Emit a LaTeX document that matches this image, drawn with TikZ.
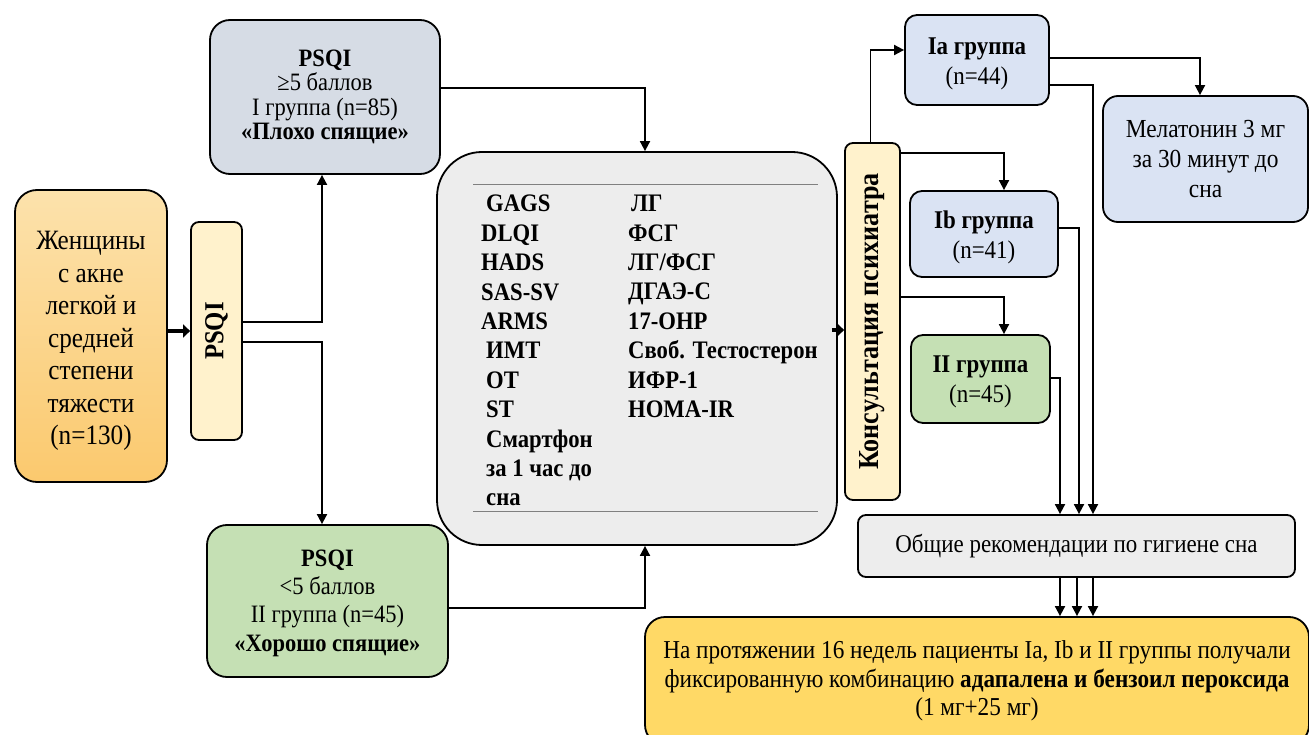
\documentclass[tikz,border=0pt]{standalone}
\usepackage{fontspec}
\setmainfont[FakeStretch=0.9]{Liberation Serif}
\usetikzlibrary{arrows.meta}
\definecolor{cWomenTop}{RGB}{252,226,172}
\definecolor{cWomenBot}{RGB}{251,201,110}
\definecolor{cCream}{HTML}{FFF2CC}
\definecolor{cGrayBlue}{HTML}{D6DCE5}
\definecolor{cBlue}{HTML}{DAE3F3}
\definecolor{cGreen}{HTML}{C5E0B4}
\definecolor{cGray}{HTML}{EDEDED}
\definecolor{cGold}{HTML}{FFD966}
\newcommand{\fsz}[2]{\fontsize{#1}{#2}\selectfont}
\begin{document}
\begin{tikzpicture}[x=1pt,y=-1pt,
  box/.style={draw=black, line width=1.8pt, inner sep=0pt, align=center},
  txt/.style={inner sep=0pt, align=center},
  arr/.style={line width=1.8pt, -{Triangle[length=10pt,width=10pt]}},
  fatarr/.style={line width=4.5pt, -{Triangle[length=7pt,width=13pt]}},
  sep/.style={draw=gray, line width=1pt},
  lbl/.style={inner sep=0pt, align=left, anchor=north west},
]
\useasboundingbox (0,0) rectangle (1309,735);

% boxes
\node[box, top color=cWomenTop, bottom color=cWomenBot, rounded corners=22pt,
      minimum width=152pt, minimum height=292pt] (women) at (91,336) {};
\node[txt, font=\fsz{28}{32.5}] (womentext) at ([yshift=-5pt]women.center)
  {Женщины\\с акне\\легкой и\\средней\\степени\\тяжести\\(n=130)};
\node[box, fill=cCream, rounded corners=8pt, minimum width=51pt, minimum height=218pt]
  (psqiv) at (216.5,331) {};
\node[rotate=90, inner sep=0pt, font=\fsz{27.5}{30}\bfseries] (psqivtext) at (psqiv) {PSQI};

\node[box, fill=cGrayBlue, rounded corners=20pt, minimum width=230pt, minimum height=154pt,
      font=\fsz{25}{24.3}]
  (top) at (325,97) {\textbf{PSQI}\\≥5 баллов\\I группа (n=85)\\\textbf{«Плохо спящие»}};
\node[box, fill=cGreen, rounded corners=20pt, minimum width=241pt, minimum height=152pt] (bot) at (327.5,601) {};
\node[txt, font=\fsz{25}{28.4}] (bottext) at ([yshift=-2pt]bot.center)
  {\textbf{PSQI}\\<5 баллов\\II группа (n=45)\\\textbf{«Хорошо спящие»}};

\node[box, fill=cGray, rounded corners=45pt, minimum width=400pt, minimum height=393pt]
  (big) at (637,348.5) {};
\draw[sep] (473,185) -- (818,185);
\draw[sep] (473,511) -- (818,511);
\node[lbl, font=\fsz{25.2}{29.4}\bfseries] (colA) at (486,195)
  {GAGS\\\hspace*{-5pt}DLQI\\\hspace*{-5pt}HADS\\\hspace*{-5pt}SAS-SV\\\hspace*{-5pt}ARMS\\ИМТ\\ОТ\\ST\\Смартфон\\за 1 час до\\сна};
\node[lbl, font=\fsz{25.2}{29.4}\bfseries] (colB) at (628,195)
  {\hspace*{3pt}ЛГ\\ФСГ\\ЛГ/ФСГ\\ДГАЭ-С\\17-OHP\\Своб. Тестостерон\\ИФР-1\\HOMA-IR};

\node[box, fill=cCream, rounded corners=8pt, minimum width=55pt, minimum height=357pt]
  (kons) at (872.5,321.5) {};
\node[rotate=90, inner sep=0pt, font=\fsz{29}{30}\bfseries] (konstext) at (kons) {Консультация психиатра};

\node[box, fill=cBlue, rounded corners=12pt, minimum width=144pt, minimum height=90pt] (ia) at (977,60) {};
\node[txt, font=\fsz{25.5}{30}] (iatext) at ([yshift=-3.5pt]ia.center) {\textbf{Ia группа}\\(n=44)};
\node[box, fill=cBlue, rounded corners=15pt, minimum width=205pt, minimum height=126pt,
      font=\fsz{26}{30}]
  (mel) at (1205.5,159) {Мелатонин 3 мг\\за 30 минут до\\сна};
\node[box, fill=cBlue, rounded corners=12pt, minimum width=148pt, minimum height=86pt] (ib) at (984,234) {};
\node[txt, font=\fsz{25.5}{30}] (ibtext) at ([yshift=-3.5pt]ib.center) {\textbf{Ib группа}\\(n=41)};
\node[box, fill=cGreen, rounded corners=12pt, minimum width=139pt, minimum height=88pt] (ii) at (980.5,379) {};
\node[txt, font=\fsz{25.5}{30}] (iitext) at ([yshift=-3pt]ii.center) {\textbf{II группа}\\(n=45)};
\node[box, fill=cGray, rounded corners=8pt, minimum width=437pt, minimum height=62pt,
      font=\fsz{25.5}{30}]
  (gen) at (1076.5,546) {Общие рекомендации по гигиене сна};
\node[box, fill=cGold, rounded corners=20pt, minimum width=664pt, minimum height=128pt,
      font=\fsz{25.8}{28.5}]
  (fin) at (977,681) {На протяжении 16 недель пациенты Ia, Ib и II группы получали\\фиксированную комбинацию \textbf{адапалена и бензоил пероксида}\\(1 мг+25 мг)};

% connectors
\draw[fatarr] (psqiv.west -| women.east) -- (psqiv.west);
\draw[arr] ([yshift=9pt]psqiv.east) -| ([xshift=-3pt]top.south);
\draw[arr] ([yshift=-11pt]psqiv.east) -| ([xshift=-5.5pt]bot.north);
\draw[arr] ([yshift=9pt]top.east) -| ([xshift=8pt]big.north);
\draw[arr] ([yshift=-7pt]bot.east) -| ([xshift=8pt]big.south);
\draw[fatarr] ([yshift=18.5pt,xshift=-6pt]big.east) -- ([yshift=18.5pt]big.east -| kons.west);
\draw[arr] ([xshift=-2pt]kons.north) |- ([yshift=10pt]ia.west);
\draw[arr] ([yshift=2pt]ia.east) -| ([xshift=-5.5pt]mel.north);
\draw[arr] ([yshift=-25pt]ia.east) -| ([xshift=16.5pt]gen.north);
\draw[arr] ([yshift=168.5pt]kons.east) -| ([xshift=20pt]ib.north);
\draw[arr] ([yshift=6pt]ib.east) -| ([xshift=2.5pt]gen.north);
\draw[arr] ([yshift=24.5pt]kons.east) -| ([xshift=23.5pt]ii.north);
\draw[arr] ([yshift=1pt]ii.east) -| ([xshift=-16.5pt]gen.north);
\draw[arr] ([xshift=-16.5pt]gen.south) -- ([xshift=-16.5pt]gen.south |- fin.north);
\draw[arr] ([xshift=0.5pt]gen.south) -- ([xshift=0.5pt]gen.south |- fin.north);
\draw[arr] ([xshift=16.5pt]gen.south) -- ([xshift=16.5pt]gen.south |- fin.north);
\end{tikzpicture}
\end{document}
